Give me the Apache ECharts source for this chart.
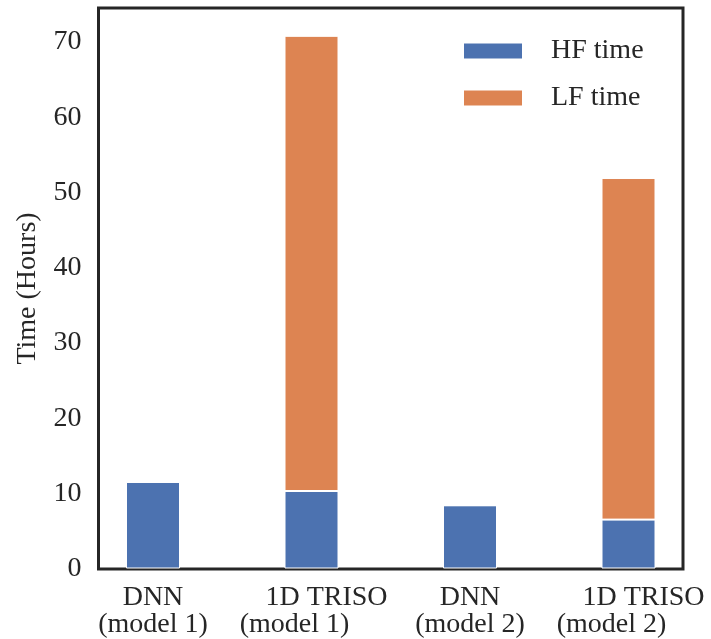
<!DOCTYPE html>
<html>
<head>
<meta charset="utf-8">
<script src="https://cdn.jsdelivr.net/npm/echarts@6/dist/echarts.min.js"></script>
<style>
  html, body { margin: 0; padding: 0; background: #fff; }
  #chart { width: 711px; height: 639px; }
</style>
</head>
<body>
<div id="chart"></div>
<script>
// Model categories along the x axis
const categories = ['DNN\n(model 1)', '1D TRISO\n(model 1)', 'DNN\n(model 2)', '1D TRISO\n(model 2)'];
// Training time in hours
const hfTime = [11.5, 10.3, 8.4, 6.5];
const lfTime = [0, 60.5, 0, 45.4];
const yTicks = [0, 10, 20, 30, 40, 50, 60, 70];
const yMax = 74.5;

const FONT = '"Liberation Serif", "DejaVu Serif", serif';
const INK = '#262626';
const FS = 28;

const chart = echarts.init(document.getElementById('chart'), null, { renderer: 'canvas' });

const base = { fontFamily: FONT, fontSize: FS, color: INK, lineHeight: 27 };
const labelRich = {
  top: Object.assign({}, base),
  bot: Object.assign({}, base),
  topR: Object.assign({}, base, { padding: [0, 0, 0, 30] }),
  botL: Object.assign({}, base, { padding: [0, 34, 0, 0] })
};

function xLabel(value) {
  const parts = value.split('\n');
  if (parts[0].indexOf('TRISO') >= 0) {
    return '{topR|' + parts[0] + '}\n{botL|' + parts[1] + '}';
  }
  return '{top|' + parts[0] + '}\n{bot|' + parts[1] + '}';
}

const option = {
  backgroundColor: '#ffffff',
  animation: false,
  grid: [
    // framed plot area carrying the y scale
    {
      left: 98.5, right: 28, top: 8, bottom: 70,
      show: true, borderColor: INK, borderWidth: 3,
      backgroundColor: 'transparent'
    },
    // bar layout area (category bands spaced to the bar centres)
    { left: 73.75, right: 3.25, top: 8, bottom: 70 }
  ],
  legend: {
    orient: 'vertical',
    left: 462,
    top: 37,
    padding: 0,
    itemWidth: 60,
    itemHeight: 17,
    itemGap: 19,
    icon: 'rect',
    textStyle: {
      fontFamily: FONT, fontSize: FS, color: INK,
      lineHeight: 26, padding: [0, 0, 0, 23]
    },
    data: ['HF time', 'LF time']
  },
  xAxis: [
    {
      gridIndex: 0, type: 'value', min: 0, max: 1,
      show: false
    },
    {
      gridIndex: 1, type: 'category', data: categories,
      axisLine: { show: false },
      axisTick: { show: false },
      splitLine: { show: false },
      axisLabel: { interval: 0, margin: 16, formatter: xLabel, rich: labelRich }
    }
  ],
  yAxis: [
    {
      gridIndex: 0, type: 'value', min: 0, max: yMax, interval: 10,
      name: 'Time (Hours)',
      nameLocation: 'middle',
      nameGap: 57,
      nameTextStyle: { fontFamily: FONT, fontSize: FS, color: INK },
      splitLine: { show: false },
      axisLine: { show: false },
      axisTick: { show: false },
      axisLabel: {
        margin: 17,
        showMaxLabel: false,
        padding: [9, 0, 0, 0],
        fontFamily: FONT, fontSize: FS, color: INK,
        formatter: function (v) { return yTicks.indexOf(v) >= 0 ? String(v) : ''; }
      }
    },
    {
      gridIndex: 1, type: 'value', min: 0, max: yMax, show: false
    }
  ],
  series: [
    {
      name: 'HF time', type: 'bar', stack: 'time',
      xAxisIndex: 1, yAxisIndex: 1,
      barWidth: 54,
      data: hfTime,
      itemStyle: { color: '#4c72b0', borderColor: '#ffffff', borderWidth: 1 }
    },
    {
      name: 'LF time', type: 'bar', stack: 'time',
      xAxisIndex: 1, yAxisIndex: 1,
      barWidth: 54,
      data: lfTime,
      itemStyle: { color: '#dd8452', borderColor: '#ffffff', borderWidth: 1 }
    }
  ]
};

chart.setOption(option);
</script>
</body>
</html>
